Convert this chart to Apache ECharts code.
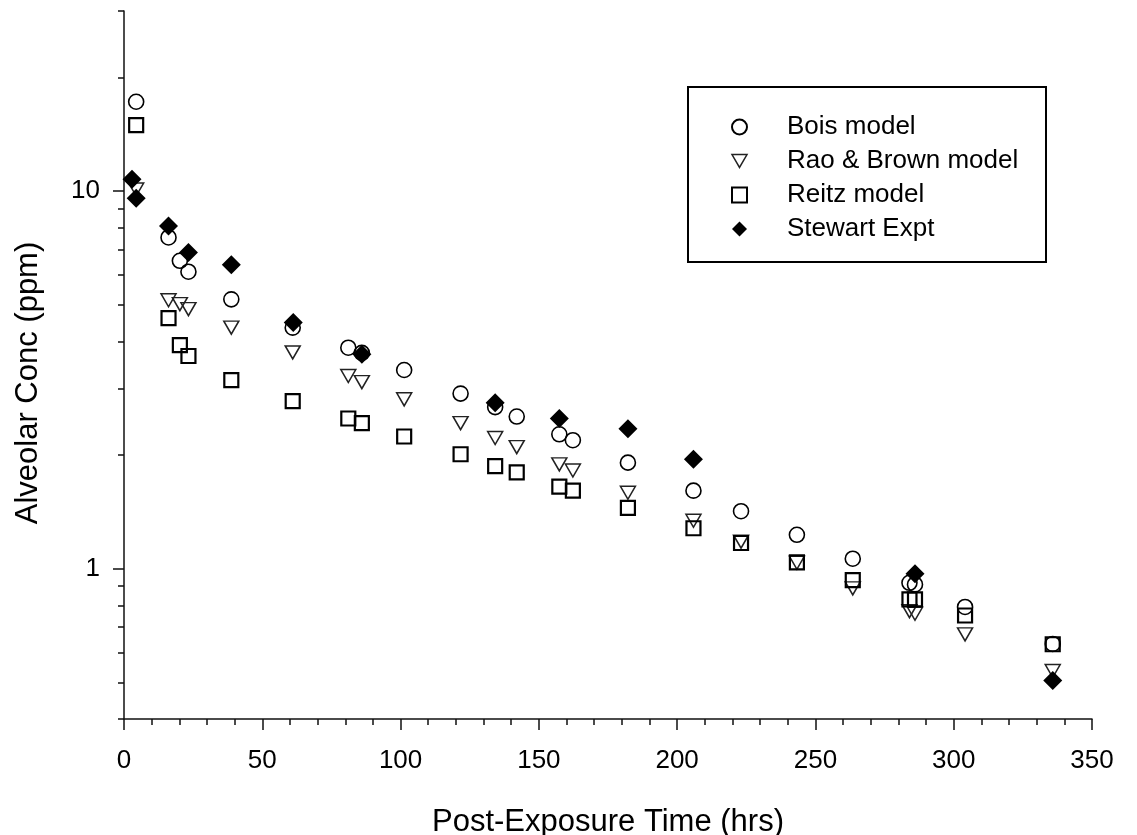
<!DOCTYPE html>
<html>
<head>
<meta charset="utf-8">
<script src="https://cdn.jsdelivr.net/npm/echarts@6/dist/echarts.min.js"></script>
<style>
html,body{margin:0;padding:0;background:#fff;}
#chart{width:1137px;height:835px;}
</style>
</head>
<body>
<div id="chart"></div>
<script>
// ---- data ----
const modelTimes = [4.4, 16.1, 20.2, 23.3, 38.8, 61, 81.1, 86, 101.3, 121.7, 134.2, 142, 157.4, 162.3, 182.2, 205.9, 223.1, 243.3, 263.5, 284, 286, 304.1, 335.8];
const boisModel = [17.25, 7.54, 6.54, 6.12, 5.17, 4.35, 3.85, 3.73, 3.36, 2.91, 2.68, 2.53, 2.27, 2.19, 1.91, 1.61, 1.42, 1.23, 1.063, 0.918, 0.909, 0.792, 0.632];
const raoBrownModel = [10.1, 5.14, 5.02, 4.87, 4.35, 3.74, 3.24, 3.12, 2.81, 2.43, 2.22, 2.10, 1.89, 1.82, 1.59, 1.34, 1.18, 1.037, 0.887, 0.772, 0.760, 0.670, 0.536];
const reitzModel = [14.96, 4.61, 3.91, 3.66, 3.16, 2.78, 2.50, 2.43, 2.24, 2.01, 1.87, 1.80, 1.65, 1.61, 1.45, 1.28, 1.17, 1.04, 0.933, 0.830, 0.830, 0.752, 0.631];
const stewartTimes = [2.9, 4.4, 16.1, 23.3, 38.8, 61.2, 86, 134.2, 157.4, 182.2, 205.9, 286, 335.8];
const stewartExpt = [10.76, 9.58, 8.09, 6.88, 6.38, 4.49, 3.70, 2.75, 2.50, 2.35, 1.95, 0.970, 0.506];
const seriesNames = ['Bois model', 'Rao & Brown model', 'Reitz model', 'Stewart Expt'];
const yMajorTicks = [1, 10];
const yMinorTicks = [0.4, 0.5, 0.6, 0.7, 0.8, 0.9, 2, 3, 4, 5, 6, 7, 8, 9, 20, 30];
const xTitle = 'Post-Exposure Time (hrs)';
const yTitle = 'Alveolar Conc (ppm)';

function pairs(xs, ys) { return xs.map((x, i) => [x, ys[i]]); }

const FONT = 'Liberation Sans, Arial, sans-serif';
const chart = echarts.init(document.getElementById('chart'));
const axisLineStyle = { color: '#111', width: 1.5 };

chart.setOption({
  animation: false,
  backgroundColor: '#fff',
  grid: { left: 124, right: 45, top: 11, bottom: 116, containLabel: false, outerBoundsMode: 'none' },
  xAxis: {
    type: 'value', min: 0, max: 350, interval: 50,
    axisLine: { show: true, lineStyle: axisLineStyle },
    axisTick: { show: true, inside: false, length: 11, lineStyle: axisLineStyle },
    minorTick: { show: true, splitNumber: 5, length: 6, lineStyle: axisLineStyle },
    splitLine: { show: false },
    axisLabel: { color: '#000', fontFamily: FONT, fontSize: 26, margin: 29 },
    name: xTitle, nameLocation: 'middle', nameGap: 88,
    nameTextStyle: { color: '#000', fontFamily: FONT, fontSize: 31 }
  },
  yAxis: [
    {
      type: 'log', min: 0.4, max: 30, logBase: 10,
      axisLine: { show: true, lineStyle: axisLineStyle },
      axisTick: { show: true, inside: false, length: 11, lineStyle: axisLineStyle, customValues: yMajorTicks },
      splitLine: { show: false },
      axisLabel: { color: '#000', fontFamily: FONT, fontSize: 26, margin: 24, padding: [4, 0, 0, 0], customValues: yMajorTicks }
    },
    {
      type: 'log', min: 0.4, max: 30, logBase: 10, position: 'left',
      axisLine: { show: false },
      axisTick: { show: true, inside: false, length: 6, lineStyle: axisLineStyle, customValues: yMinorTicks },
      splitLine: { show: false },
      axisLabel: { show: false }
    }
  ],
  legend: {
    orient: 'vertical', left: 731, top: 114, padding: 0,
    itemWidth: 15, itemHeight: 15, itemGap: 8,
    data: [
      { name: seriesNames[0] },
      { name: seriesNames[1], icon: 'path://M0,0 L14,0 L7,12 Z',
        itemStyle: { color: 'transparent', borderColor: '#222', borderWidth: 1.5 } },
      { name: seriesNames[2] },
      { name: seriesNames[3], icon: 'path://M9,0 L18,9 L9,18 L0,9 Z',
        itemStyle: { color: '#000', borderWidth: 0 } }
    ],
    selectedMode: false,
    formatter: function (name) { return '{g| }' + name; },
    textStyle: {
      color: '#000', fontFamily: FONT, fontSize: 26, lineHeight: 26,
      rich: { g: { width: 35, fontSize: 26, lineHeight: 26 } }
    }
  },
  graphic: [
    { type: 'rect', z: 1, shape: { x: 688, y: 87, width: 358, height: 175 },
      style: { fill: 'none', stroke: '#000', lineWidth: 2 } },
    { type: 'text', x: 28, y: 383, rotation: Math.PI / 2,
      style: { text: yTitle, font: '31px ' + FONT, fill: '#000', textAlign: 'center', textVerticalAlign: 'middle' } }
  ],
  series: [
    { name: seriesNames[0], type: 'scatter', yAxisIndex: 0, data: pairs(modelTimes, boisModel),
      symbol: 'circle', symbolSize: 15,
      itemStyle: { color: 'transparent', borderColor: '#000', borderWidth: 1.6, opacity: 1 } },
    { name: seriesNames[1], type: 'scatter', yAxisIndex: 0, data: pairs(modelTimes, raoBrownModel),
      symbol: 'triangle', symbolRotate: 180, symbolSize: [15, 13],
      itemStyle: { color: 'transparent', borderColor: '#222', borderWidth: 1.5, opacity: 1 } },
    { name: seriesNames[2], type: 'scatter', yAxisIndex: 0, data: pairs(modelTimes, reitzModel),
      symbol: 'rect', symbolSize: 14,
      itemStyle: { color: 'transparent', borderColor: '#000', borderWidth: 2.2, opacity: 1 } },
    { name: seriesNames[3], type: 'scatter', yAxisIndex: 0, data: pairs(stewartTimes, stewartExpt),
      symbol: 'diamond', symbolSize: 19,
      itemStyle: { color: '#000', borderColor: '#000', borderWidth: 0, opacity: 1 } }
  ]
});
</script>
</body>
</html>
